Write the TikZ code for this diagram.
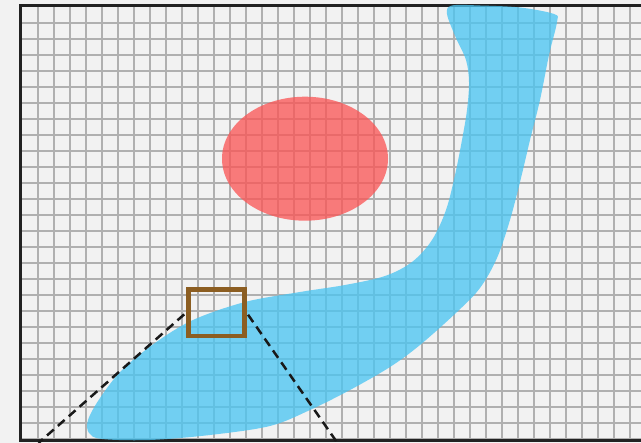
\documentclass[tikz,border=0pt]{standalone}
\usetikzlibrary{positioning}
\definecolor{cBack}{HTML}{F2F2F2}
\definecolor{cGrid}{HTML}{B0B0B0}
\definecolor{cFrame}{HTML}{222222}
\definecolor{cRiver}{HTML}{4BC5F2}
\definecolor{cLake}{HTML}{FB5656}
\definecolor{cZoom}{HTML}{8C5E22}

\begin{document}
\begin{tikzpicture}[
  x=1pt, y=-1pt,
  gridline/.style={draw=cGrid, line width=1.7pt},
  frame/.style={draw=cFrame, line width=3pt},
  blob/.style={fill=#1, fill opacity=0.77},
  zoombox/.style={rectangle, draw=cZoom, line width=4.7pt, inner sep=0pt,
                  minimum width=56pt, minimum height=46.4pt},
  zoomline/.style={draw=black!90, line width=2.5pt, dash pattern=on 9pt off 5.5pt,
                   shorten <=2.4pt},
]
\useasboundingbox (0,0) rectangle (641,443);
\fill[cBack] (0,0) rectangle (641,443);

% =========================== grid + frame ===========================
\foreach \i in {1,...,39}
  \draw[gridline] (21.7+16*\i,5.5) -- (21.7+16*\i,440.5);
\foreach \j in {1,...,27}
  \draw[gridline] (20.7,6.7+16*\j) -- (660,6.7+16*\j);
\draw[frame] (660,5.5) -- (20.7,5.5) -- (20.7,440.5) -- (660,440.5);

% =========================== shapes ===========================
\fill[blob=cLake] (305,158.7) ellipse [x radius=83, y radius=62];

\fill[blob=cRiver] plot[smooth cycle, tension=0.55] coordinates {
  (452,5.5) (447,14) (456,38) (466,60) (469,82) (467,110) (462,140)
  (455,175) (446,210) (432,240) (412,262) (385,276) (345,285) (300,292)
  (245,302) (193,320) (155,343) (122,370) (100,398) (88,420) (89,433)
  (102,439) (150,440) (210,435) (270,426) (310,410) (350,390) (390,367)
  (420,345) (457,312) (480,288) (497,258) (510,220) (521,178) (530,140)
  (540,100) (549,55) (557,22) (554,14) (520,7.5) (480,5.5)};

% =========================== zoom window ===========================
\node[zoombox] (zoom) at (216.35,312.8) {};
\coordinate (lensL) at (38.5,443);
\coordinate (lensR) at (337.5,443);

\draw[zoomline] (zoom.west) -- (lensL);
\draw[zoomline] (zoom.east) -- (lensR);

\end{tikzpicture}
\end{document}
